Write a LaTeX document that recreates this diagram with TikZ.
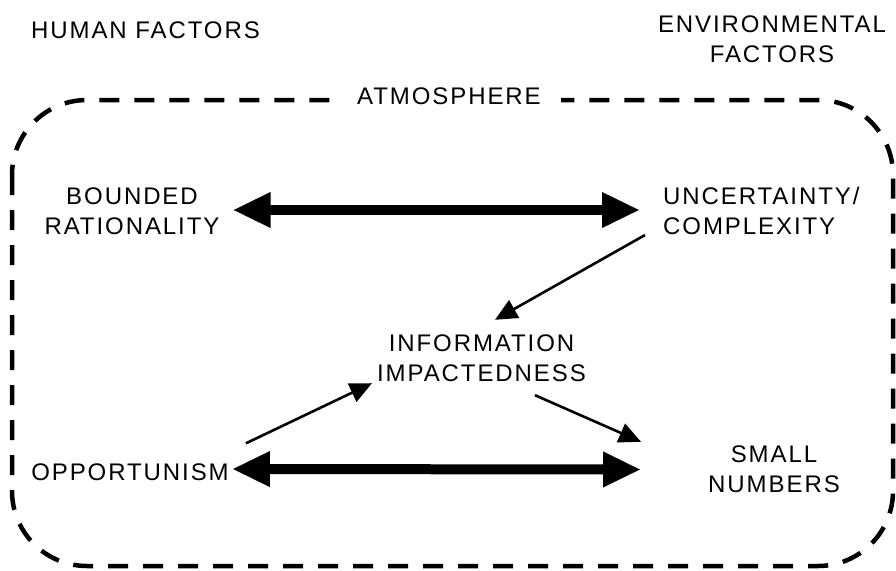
\documentclass[tikz,border=0pt]{standalone}
\usepackage{fontspec}
\setmainfont{Liberation Sans}[LetterSpace=8]
\usetikzlibrary{arrows.meta,calc}
\begin{document}
\begin{tikzpicture}[x=1pt,y=-1pt,
  lbl/.style={inner sep=0pt, font=\fontsize{24pt}{30pt}\selectfont, align=center},
  bigarrow/.style={line width=10pt, {Triangle[length=38pt,width=33pt]}-{Triangle[length=38pt,width=33pt]}},
  thinarrow/.style={line width=2.6pt, -{Triangle[length=22pt,width=20pt]}},
  frame/.style={line width=4.5pt, dash pattern=on 20pt off 15pt, rounded corners=75pt}]
\fill[white] (0,0) rectangle (896,570);
\useasboundingbox (0,0) rectangle (896,570);
\draw[frame] (12,100) rectangle (893,566);
\node[lbl, fill=white, inner xsep=20pt, inner ysep=6pt] (atm) at (449,96.5) {ATMOSPHERE};
\node[lbl] (hf) at (145.5,30) {HUMAN FACTORS};
\node[lbl] (ef) at (772,39) {ENVIRONMENTAL\\FACTORS};
\node[lbl] (br) at (132,211.5) {BOUNDED\\RATIONALITY};
\node[lbl, align=left, anchor=west] (unc) at (663,211) {UNCERTAINTY/\\COMPLEXITY};
\node[lbl] (info) at (481.5,358.5) {INFORMATION\\IMPACTEDNESS};
\node[lbl] (opp) at (130,472) {OPPORTUNISM};
\node[lbl] (sn) at (774,469.5) {SMALL\\NUMBERS};
\draw[bigarrow] ($(br.east)+(13,-1.5)$) -- ($(unc.west)+(-23,-1)$);
\draw[bigarrow] ($(opp.east)+(3,-3)$) -- ($(sn.west)+(-67,0)$);
\draw[thinarrow] ($(unc.south west)+(-18,0)$) -- ($(info.north)+(13.5,-15)$);
\draw[thinarrow] ($(opp.north east)+(17,-20)$) -- ($(info.south west)+(-5,1)$);
\draw[thinarrow] ($(info.south)+(53.5,13)$) -- ($(sn.north west)+(-67,-4)$);
\end{tikzpicture}
\end{document}
